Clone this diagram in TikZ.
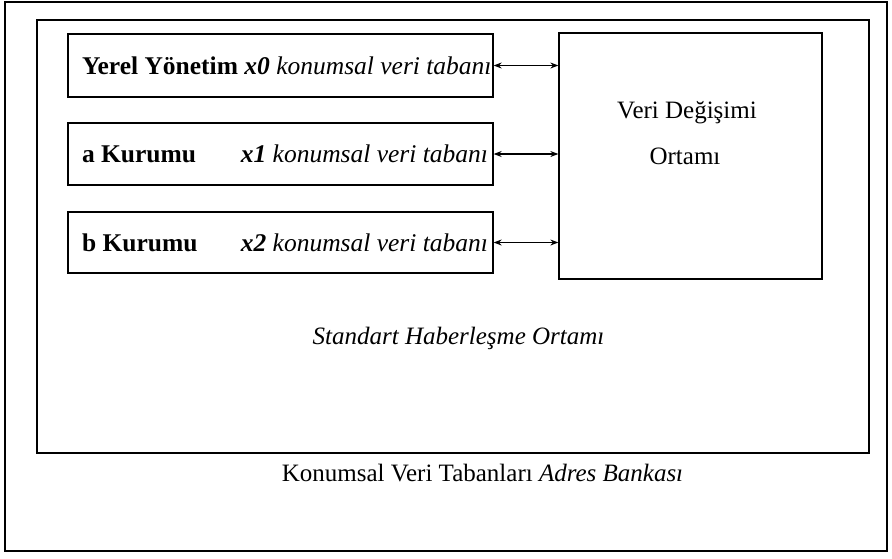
\documentclass[tikz,border=0pt]{standalone}
\usepackage{fontspec}
\setmainfont{Liberation Serif}
\usetikzlibrary{arrows.meta}
\begin{document}
\begin{tikzpicture}[x=1pt,y=-1pt,
  line width=1.3pt,
  dbbox/.style={draw, minimum width=425pt, inner xsep=0pt, inner ysep=0pt, font=\fontsize{25.5}{29}\selectfont},
  lbl/.style={font=\fontsize{25}{29}\selectfont, inner sep=0pt, anchor=base},
  link/.style={line width=1.1pt, {Stealth[length=8pt,width=6pt]}-{Stealth[length=8pt,width=6pt]}}]
\useasboundingbox (0,0) rectangle (892,558);
\draw[line width=1.1pt] (5,2) rectangle (887,551);
\draw (37,20) rectangle (869,453);
\node[dbbox, minimum height=63pt] (b1) at (280.5,65.5) {\makebox[425pt][l]{\hspace{14pt}\textbf{Yerel Yönetim} \textbf{\textit{x0}} \textit{konumsal veri tabanı}}};
\node[dbbox, minimum height=62pt] (b2) at (280.5,154) {\makebox[425pt]{\hspace{14pt}\textbf{a Kurumu}\hfill\textbf{\textit{x1}} \textit{konumsal veri tabanı}\hspace{5pt}}};
\node[dbbox, minimum height=61pt] (b3) at (280.5,242.5) {\makebox[425pt]{\hspace{14pt}\textbf{b Kurumu}\hfill\textbf{\textit{x2}} \textit{konumsal veri tabanı}\hspace{5pt}}};
\node[draw, minimum width=263pt, minimum height=246pt, inner sep=0pt] (vd) at (690.5,156) {};
\node[lbl] (t1) at (687,118) {Veri Değişimi};
\node[lbl] (t2) at (685,164) {Ortamı};
\draw[link] (b1.east) -- (b1.east -| vd.west);
\draw[link] (b2.east) -- (b2.east -| vd.west);
\draw[link] (b3.east) -- (b3.east -| vd.west);
\node[lbl] (std) at (458.5,344) {\textit{Standart Haberleşme Ortamı}};
\node[lbl] (adr) at (482.5,481) {Konumsal Veri Tabanları \textit{Adres Bankası}};
\end{tikzpicture}
\end{document}
